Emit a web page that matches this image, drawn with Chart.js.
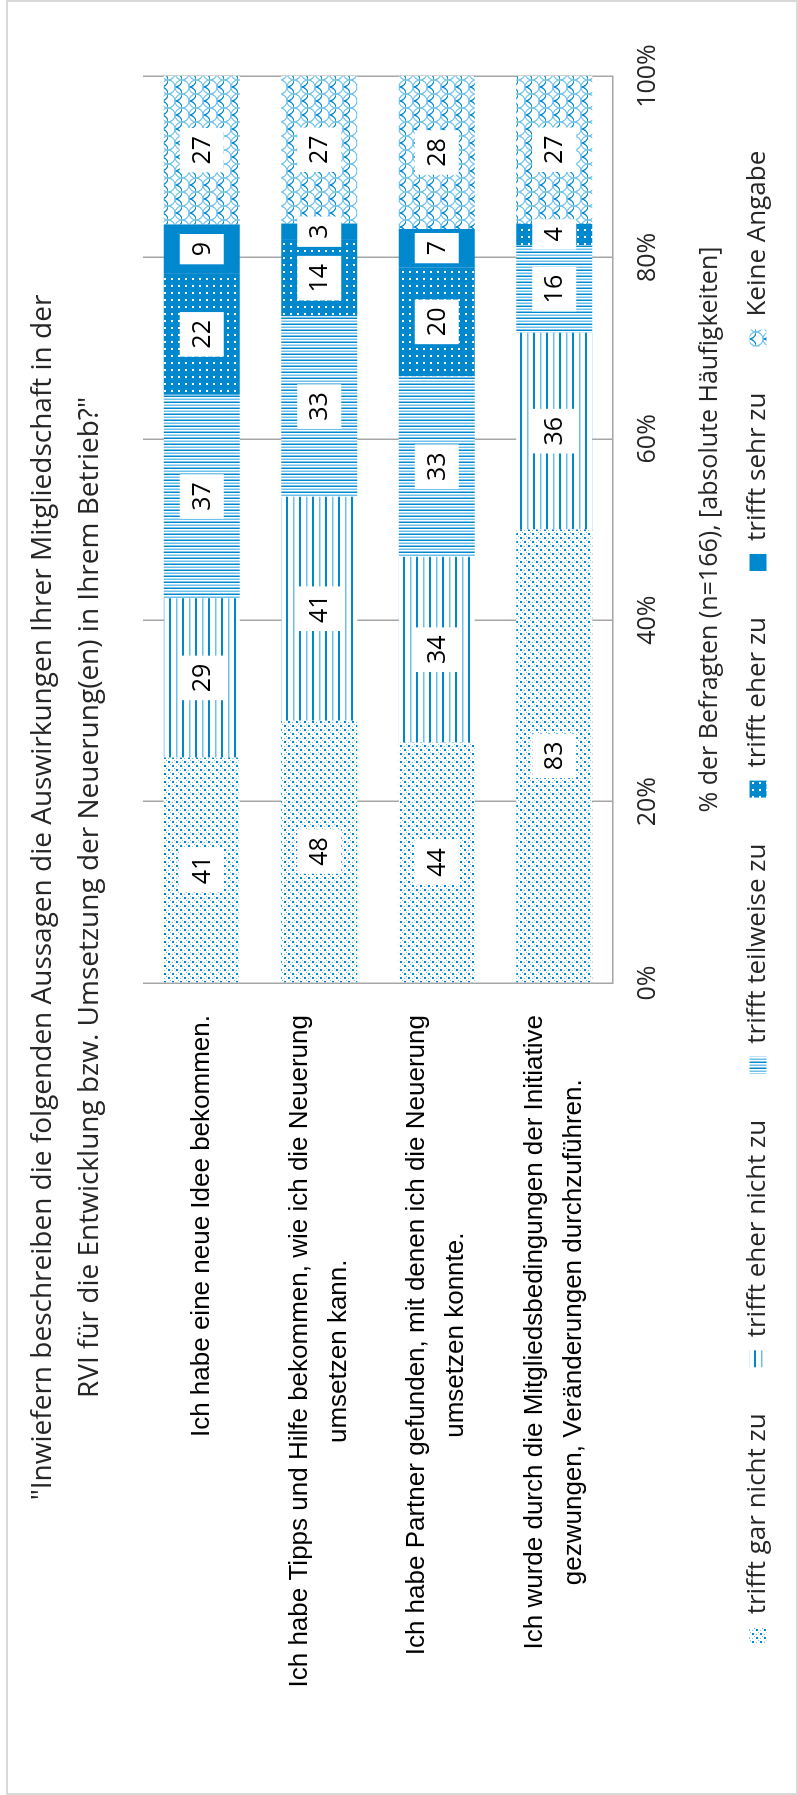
<!DOCTYPE html>
<html>
<head>
<meta charset="utf-8">
<script src="https://cdn.jsdelivr.net/npm/chart.js@4.4.1/dist/chart.umd.min.js"></script>
<style>
  html, body { margin: 0; padding: 0; background: #fff; }
  body { width: 798px; height: 1795px; overflow: hidden; position: relative; }
  /* chart is drawn landscape and turned a quarter left, like the reference */
  #wrap { position: absolute; left: 0; top: 0; width: 1795px; height: 798px;
          transform-origin: 0 0; transform: translateY(1795px) rotate(-90deg); }
</style>
</head>
<body>
<div id="wrap"><canvas id="chart" width="1795" height="798"></canvas></div>
<script>
// Data (absolute counts, n=166)
const categories = [
    ['Ich habe eine neue Idee bekommen.'],
    ['Ich habe Tipps und Hilfe bekommen, wie ich die Neuerung', 'umsetzen kann.'],
    ['Ich habe Partner gefunden, mit denen ich die Neuerung', 'umsetzen konnte.'],
    ['Ich wurde durch die Mitgliedsbedingungen der Initiative', 'gezwungen, Veränderungen durchzuführen.']
];
const seriesNames = ['trifft gar nicht zu', 'trifft eher nicht zu', 'trifft teilweise zu', 'trifft eher zu', 'trifft sehr zu', 'Keine Angabe'];
const garNicht = [41, 48, 44, 83];
const eherNicht = [29, 41, 34, 36];
const teilweise = [37, 33, 33, 16];
const eherZu = [22, 14, 20, 4];
const sehrZu = [9, 3, 7, 0];
const keineAngabe = [27, 27, 28, 27];
const xTicks = [0, 20, 40, 60, 80, 100];

const seriesCounts = [garNicht, eherNicht, teilweise, eherZu, sehrZu, keineAngabe];
const rowTotals = categories.map((_, i) => seriesCounts.reduce((s, arr) => s + arr[i], 0));

const DARK = '#0088CE';
const LIGHT = '#6CC0EC';

function makePattern(w, h, draw) {
    const c = document.createElement('canvas');
    c.width = w; c.height = h;
    const g = c.getContext('2d');
    g.fillStyle = '#fff';
    g.fillRect(0, 0, w, h);
    draw(g);
    return g.createPattern(c, 'repeat');
}

// hatch fills, drawn in the landscape frame
const fills = [
    makePattern(8, 8, g => {
        g.fillStyle = DARK;
        g.fillRect(0, 0, 2, 2); g.fillRect(4, 4, 2, 2);
        g.fillStyle = LIGHT;
        g.fillRect(4, 0, 1, 1); g.fillRect(0, 4, 1, 1); g.fillRect(2, 6, 1, 1); g.fillRect(6, 2, 1, 1);
    }),
    makePattern(4, 13, g => {
        g.fillStyle = DARK; g.fillRect(0, 0, 4, 2);
        g.fillStyle = LIGHT; g.fillRect(0, 7, 4, 1.5);
    }),
    makePattern(6, 4, g => {
        g.fillStyle = DARK; g.fillRect(0, 0, 1.5, 4);
        g.fillStyle = LIGHT; g.fillRect(3, 0, 1.5, 4);
    }),
    makePattern(7, 7, g => {
        g.fillStyle = DARK; g.fillRect(0, 0, 7, 7);
        g.fillStyle = '#fff'; g.fillRect(3, 3, 2, 2);
    }),
    DARK,
    makePattern(14, 14, g => {
        g.lineWidth = 1.2;
        g.strokeStyle = DARK;
        g.beginPath(); g.arc(7, 7, 7, 0, Math.PI); g.stroke();
        g.strokeStyle = LIGHT;
        g.beginPath(); g.arc(0, 0, 7, 0, Math.PI); g.stroke();
        g.beginPath(); g.arc(14, 0, 7, 0, Math.PI); g.stroke();
        g.beginPath(); g.arc(0, 14, 7, Math.PI, 2 * Math.PI); g.stroke();
        g.beginPath(); g.arc(14, 14, 7, Math.PI, 2 * Math.PI); g.stroke();
    })
];

const datasets = seriesNames.map((name, k) => ({
    label: name,
    data: seriesCounts[k].map((v, i) => v / rowTotals[i] * 100),
    backgroundColor: fills[k],
    borderWidth: 0,
    barPercentage: 0.646,
    categoryPercentage: 1
}));

// white boxed counts in the middle of every segment
const valueLabels = {
    id: 'valueLabels',
    afterDatasetsDraw(chart) {
        const ctx = chart.ctx;
        ctx.save();
        ctx.font = '25px "Open Sans"';
        ctx.textAlign = 'center';
        ctx.textBaseline = 'middle';
        chart.data.datasets.forEach((ds, di) => {
            chart.getDatasetMeta(di).data.forEach((bar, i) => {
                const v = seriesCounts[di][i];
                if (!v) return;
                const p = bar.getProps(['x', 'y', 'base'], true);
                const cx = (p.x + p.base) / 2;
                const txt = String(v);
                const w = ctx.measureText(txt).width + 16;
                const h = 44;
                ctx.fillStyle = '#fff';
                ctx.fillRect(cx - w / 2, p.y - h / 2, w, h);
                ctx.fillStyle = '#000';
                ctx.fillText(txt, cx, p.y + 1);
            });
        });
        ctx.restore();
    }
};

// category labels: block right-aligned to the axis, lines centred inside
const categoryLabels = {
    id: 'categoryLabels',
    afterDraw(chart) {
        const ctx = chart.ctx;
        const yScale = chart.scales.y;
        const right = chart.chartArea.left - 32;
        const lh = 39;
        ctx.save();
        ctx.font = '26px "Liberation Sans", Arial, sans-serif';
        ctx.fillStyle = '#000';
        ctx.textAlign = 'center';
        ctx.textBaseline = 'middle';
        categories.forEach((lines, i) => {
            const y = yScale.getPixelForValue(i);
            const blockW = Math.max(...lines.map(l => ctx.measureText(l).width));
            const cx = right - blockW / 2;
            const y0 = y - (lines.length - 1) * lh / 2;
            lines.forEach((l, j) => ctx.fillText(l, cx, y0 + j * lh));
        });
        ctx.restore();
    }
};

const frame = {
    id: 'frame',
    afterDraw(chart) {
        const ctx = chart.ctx;
        ctx.save();
        ctx.strokeStyle = '#D9D9D9';
        ctx.lineWidth = 2;
        ctx.strokeRect(1, 7, chart.width - 2, chart.height - 8);
        ctx.restore();
    }
};

new Chart(document.getElementById('chart').getContext('2d'), {
    type: 'bar',
    data: { labels: categories.map(c => c.join(' ')), datasets: datasets },
    options: {
        indexAxis: 'y',
        responsive: false,
        devicePixelRatio: 1,
        animation: false,
        layout: { padding: { left: 76, right: 76, top: 20, bottom: 17 } },
        plugins: {
            tooltip: { enabled: false },
            title: {
                display: true,
                text: ['"Inwiefern beschreiben die folgenden Aussagen die Auswirkungen Ihrer Mitgliedschaft in der',
                       'RVI für die Entwicklung bzw. Umsetzung der Neuerung(en) in Ihrem Betrieb?"'],
                font: { family: "'Open Sans', sans-serif", size: 28, weight: 'normal', lineHeight: 47 / 28 },
                color: '#262626',
                padding: { top: 0, bottom: 29 }
            },
            legend: {
                position: 'bottom',
                labels: {
                    boxWidth: 17,
                    boxHeight: 17,
                    padding: 46,
                    color: '#262626',
                    font: { family: "'Open Sans', sans-serif", size: 26 }
                }
            }
        },
        scales: {
            x: {
                stacked: true,
                min: 0,
                max: 100,
                afterBuildTicks: scale => { scale.ticks = xTicks.map(v => ({ value: v })); },
                grid: { color: '#A6A6A6', lineWidth: 1.5, drawTicks: false },
                border: { display: true, color: '#A6A6A6', width: 1.5 },
                ticks: {
                    padding: 20,
                    color: '#262626',
                    font: { family: "'Open Sans', sans-serif", size: 25 },
                    callback: v => v + '%'
                },
                title: {
                    display: true,
                    text: '% der Befragten (n=166), [absolute Häufigkeiten]',
                    color: '#262626',
                    font: { family: "'Open Sans', sans-serif", size: 25 },
                    padding: { top: 12, bottom: -26 }
                }
            },
            y: {
                stacked: true,
                grid: { display: false },
                border: { display: false },
                ticks: { display: false },
                afterFit: scale => { scale.width = 812 - 76; }
            }
        }
    },
    plugins: [valueLabels, categoryLabels, frame]
});
</script>
</body>
</html>
